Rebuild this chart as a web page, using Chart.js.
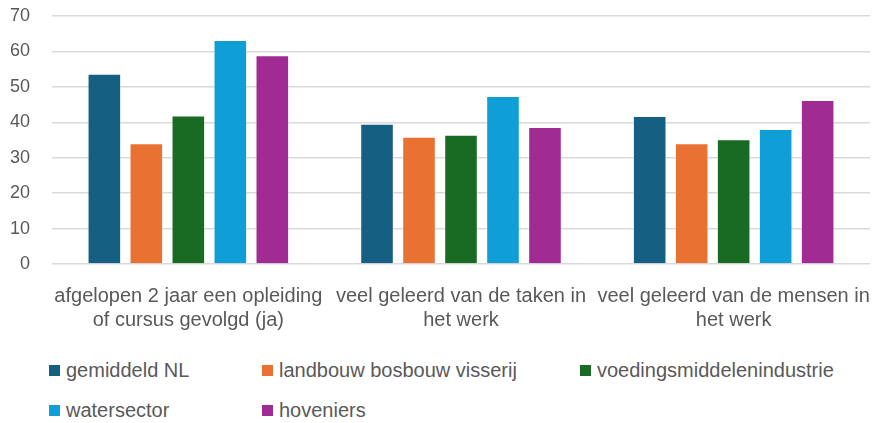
<!DOCTYPE html>
<html>
<head>
<meta charset="utf-8">
<script src="https://cdn.jsdelivr.net/npm/chart.js@4/dist/chart.umd.min.js"></script>
<style>
  html, body { margin: 0; padding: 0; background: #fff; }
  #wrap { position: relative; width: 873px; height: 423px; font-family: "Liberation Sans", Arial, sans-serif; }
  #box { position: absolute; left: 0; top: 0; width: 873px; height: 340px; }
  #legend {
    position: absolute; left: 49px; top: 358px;
    display: grid; grid-template-columns: 213px 318px auto; grid-auto-rows: 40px;
    color: #595959; font-size: 20px; line-height: 24px;
  }
  #legend .item { display: flex; align-items: center; white-space: nowrap; height: 24px; }
  #legend .box { width: 11px; height: 11px; margin-right: 6px; }
</style>
</head>
<body>
<div id="wrap">
  <div id="box"><canvas id="chart"></canvas></div>
  <div id="legend"></div>
</div>
<script>
// Categories (two-line labels)
const categories = [
    ['afgelopen 2 jaar een opleiding', 'of cursus gevolgd (ja)'],
    ['veel geleerd van de taken in', 'het werk'],
    ['veel geleerd van de mensen in', 'het werk']
];

// Series
const seriesNames = ['gemiddeld NL', 'landbouw bosbouw visserij', 'voedingsmiddelenindustrie', 'watersector', 'hoveniers'];
const gemiddeldNL = [53.7, 39.6, 41.8];
const landbouw = [34.1, 35.9, 34.1];
const voeding = [41.9, 36.5, 35.2];
const watersector = [63.2, 47.4, 38.1];
const hoveniers = [58.9, 38.7, 46.3];
const seriesColors = ['#156082', '#E97132', '#196B24', '#0F9ED5', '#A02B93'];

// Y axis
const yMin = 0;
const yMax = 70;
const yStep = 10;

const seriesValues = [gemiddeldNL, landbouw, voeding, watersector, hoveniers];

const textColor = '#595959';
const gridColor = '#d9d9d9';

// Build legend as html so it can be laid out in columns like the original
const htmlLegend = {
    id: 'htmlLegend',
    afterUpdate(chart) {
        const el = document.getElementById('legend');
        el.innerHTML = chart.data.datasets.map(ds => `
            <div class="item"><span class="box" style="background:${ds.backgroundColor}"></span>${ds.label}</div>
        `).join('');
    }
};

const ctx = document.getElementById('chart').getContext('2d');
new Chart(ctx, {
    type: 'bar',
    data: {
        labels: categories,
        datasets: seriesNames.map((name, i) => ({
            label: name,
            data: seriesValues[i],
            backgroundColor: seriesColors[i],
            borderColor: 'rgba(255,255,255,0.45)',
            borderWidth: 1,
            barPercentage: 0.8,
            categoryPercentage: 0.77
        }))
    },
    options: {
        responsive: true,
        maintainAspectRatio: false,
        animation: false,
        layout: { padding: { top: 16, right: 3, left: 0, bottom: 0 } },
        plugins: {
            legend: { display: false },
            tooltip: { enabled: false }
        },
        scales: {
            x: {
                grid: { display: false, drawTicks: false },
                border: { display: false },
                ticks: {
                    color: textColor,
                    padding: 20,
                    maxRotation: 0,
                    autoSkip: false,
                    font: { family: '"Liberation Sans", Arial, sans-serif', size: 20, lineHeight: 1.2 }
                },
                afterFit(scale) {
                    scale.height = 76;
                    scale.paddingLeft = 0;
                    scale.paddingRight = 0;
                }
            },
            y: {
                min: yMin,
                max: yMax,
                grid: { color: gridColor, lineWidth: 1.5, drawTicks: false },
                border: { display: false },
                ticks: {
                    stepSize: yStep,
                    color: textColor,
                    padding: 22,
                    font: { family: '"Liberation Sans", Arial, sans-serif', size: 18 }
                },
                afterFit(scale) {
                    scale.width = 52;
                    scale.paddingTop = 0;
                    scale.paddingBottom = 0;
                }
            }
        }
    },
    plugins: [htmlLegend]
});
</script>
</body>
</html>
